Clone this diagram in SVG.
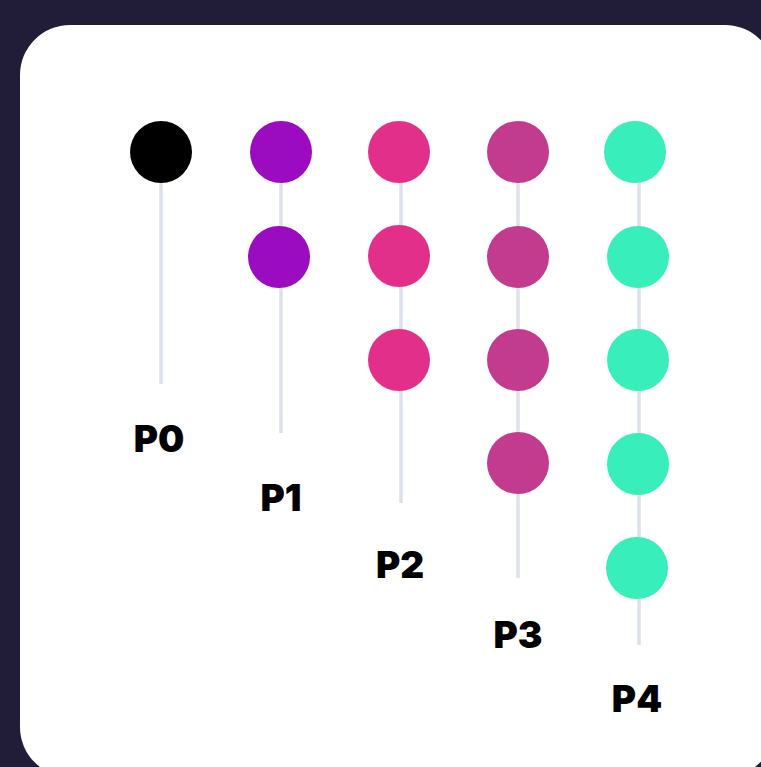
<svg xmlns="http://www.w3.org/2000/svg" width="761" height="767" viewBox="0 0 761 767">
<style>
.ln{stroke:#dde1ea;stroke-width:3.5;fill:none}
.lbl{font-family:Inter,"Liberation Sans",sans-serif;font-weight:900;font-size:37px;fill:#000;text-anchor:middle}
.c0{fill:#000}.c1{fill:#9b0bbf}.c2{fill:#e2308a}.c3{fill:#c23b8e}.c4{fill:#38efbb}
</style>
<rect x="0" y="0" width="761" height="767" fill="#211d38"/>
<rect x="20" y="25" width="755" height="752" rx="50" ry="50" fill="#fff"/>
<g id="connectors">
<line class="ln" x1="161" y1="152" x2="161" y2="384"/>
<line class="ln" x1="281" y1="152" x2="281" y2="433"/>
<line class="ln" x1="401" y1="152" x2="401" y2="503"/>
<line class="ln" x1="518" y1="152" x2="518" y2="578"/>
<line class="ln" x1="639" y1="152" x2="639" y2="645"/>
</g>
<g id="p0">
<circle class="c0" cx="161" cy="152" r="31"/>
<text class="lbl" x="159" y="452">P0</text>
</g>
<g id="p1">
<circle class="c1" cx="281" cy="152" r="31"/>
<circle class="c1" cx="279" cy="257" r="31"/>
<text class="lbl" x="281" y="511">P1</text>
</g>
<g id="p2">
<circle class="c2" cx="399" cy="152" r="31"/>
<circle class="c2" cx="399" cy="256" r="31"/>
<circle class="c2" cx="399" cy="360" r="31"/>
<text class="lbl" x="400" y="578">P2</text>
</g>
<g id="p3">
<circle class="c3" cx="518" cy="152" r="31"/>
<circle class="c3" cx="518" cy="257" r="31"/>
<circle class="c3" cx="518" cy="360" r="31"/>
<circle class="c3" cx="518" cy="463" r="31"/>
<text class="lbl" x="518" y="648">P3</text>
</g>
<g id="p4">
<circle class="c4" cx="635" cy="152" r="31"/>
<circle class="c4" cx="638" cy="257" r="31"/>
<circle class="c4" cx="638" cy="360" r="31"/>
<circle class="c4" cx="638" cy="464" r="31"/>
<circle class="c4" cx="637" cy="568" r="31"/>
<text class="lbl" x="637" y="712">P4</text>
</g>
</svg>
